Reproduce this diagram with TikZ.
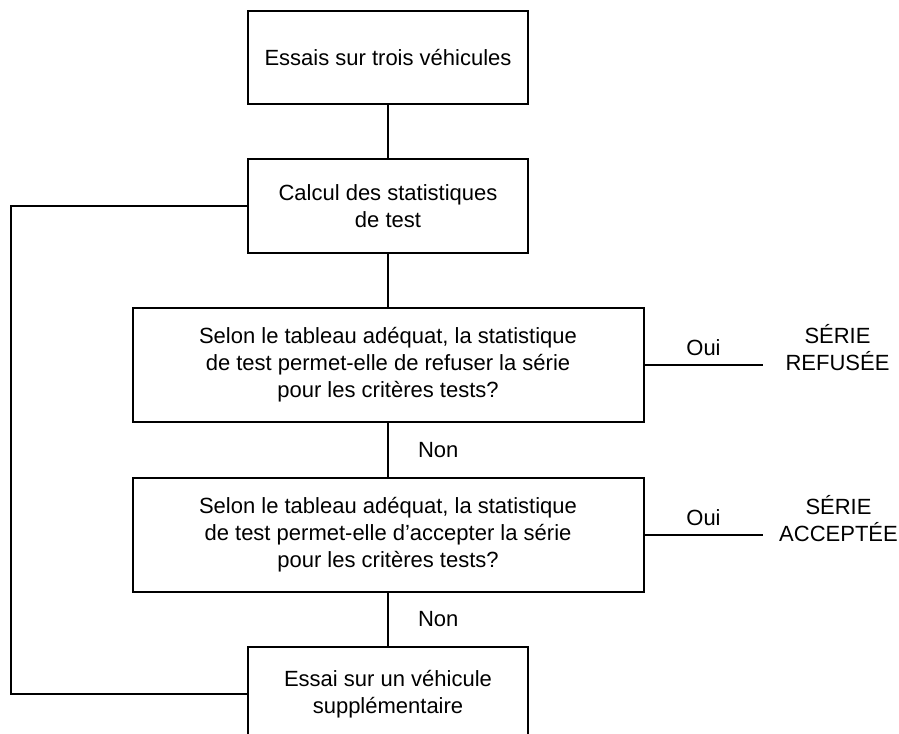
\documentclass[tikz,border=0pt]{standalone}
\usepackage{fontspec}
\setmainfont{Liberation Sans}
\usetikzlibrary{positioning, calc}

\begin{document}
\begin{tikzpicture}[
  node distance = 39.75pt,
  boxSTEP/.style = {rectangle, minimum width=210pt, minimum height=70.5pt,
                    align=center, font=\fontsize{16.5}{20.25}\selectfont,
                    draw=black, line width=1.5pt, inner sep=4pt},
  boxTEST/.style = {boxSTEP, minimum width=383.25pt, minimum height=85.5pt},
  lbl/.style     = {font=\fontsize{16.5}{20.25}\selectfont, inner sep=0pt, align=center},
  link/.style    = {line width=1.5pt, color=black},
]

\useasboundingbox (0,0) rectangle (674.25pt,-550.5pt);

\node[boxSTEP, anchor=north, minimum height=69.75pt] (trois) at (291pt,-7.5pt)
  {Essais sur trois véhicules};

\node[boxSTEP, below=of trois] (stats)
  {Calcul des statistiques\\de test};

\node[boxTEST, below=of stats] (refus)
  {Selon le tableau adéquat, la statistique\\
   de test permet-elle de refuser la série\\
   pour les critères tests?};

\node[boxTEST, below=40.5pt of refus] (accept)
  {Selon le tableau adéquat, la statistique\\
   de test permet-elle d’accepter la série\\
   pour les critères tests?};

\node[boxSTEP, below=of accept] (extra)
  {Essai sur un véhicule\\supplémentaire};

%% Main flow
\draw[link] (trois) -- (stats);
\draw[link] (stats) -- (refus);
\draw[link] (refus) -- node[lbl, right=21.75pt] {Non} (accept);
\draw[link] (accept) -- node[lbl, right=21.75pt] {Non} (extra);

%% "Oui" exits
\draw[link] (refus.east) -- node[lbl, above=6pt] {Oui} ++(88.5pt,0) coordinate (refEnd);
\draw[link] (accept.east) -- node[lbl, above=6pt] {Oui} ++(88.5pt,0) coordinate (accEnd);
\node[lbl] at ($(refEnd)+(56.25pt,12.75pt)$) {SÉRIE\\REFUSÉE};
\node[lbl] at ($(accEnd)+(57pt,12pt)$) {SÉRIE\\ACCEPTÉE};

%% Loop back from extra vehicle
\draw[link] (stats.west) -- ++(-177pt,0) coordinate (loopTop) |- (extra.west);

\end{tikzpicture}
\end{document}
